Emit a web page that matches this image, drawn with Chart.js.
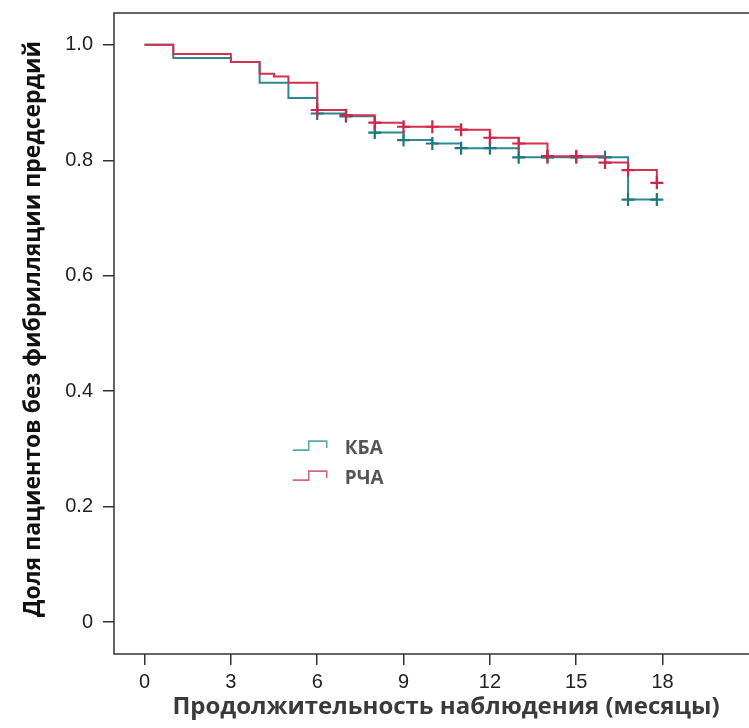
<!DOCTYPE html>
<html><head><meta charset="utf-8">
<script src="https://cdn.jsdelivr.net/npm/chart.js@4/dist/chart.umd.min.js"></script>
<style>html,body{margin:0;padding:0;background:#fff}#wrap{width:749px;height:728px}</style>
</head><body><div id="wrap"><canvas id="c" width="749" height="728"></canvas></div>
<script>
const xTicks = [0, 3, 6, 9, 12, 15, 18];
const yTicks = [0, 0.2, 0.4, 0.6, 0.8, 1.0];
const seriesNames = ['КБА', 'РЧА'];
const xTitle = 'Продолжительность наблюдения (месяцы)';
const yTitle = 'Доля пациентов без фибрилляции предсердий';

const kbaTimes = [0, 1, 3, 4, 5, 6, 7, 8, 9, 10, 11, 13, 16.8, 17.8];
const kbaSurv  = [1, 0.977, 0.970, 0.934, 0.908, 0.881, 0.876, 0.848, 0.835, 0.829, 0.821, 0.805, 0.732, 0.732];
const kbaCensorT = [6, 7, 8, 9, 10, 11, 12, 13, 14, 15, 16, 16.8, 17.8];
const kbaCensorS = [0.881, 0.876, 0.848, 0.835, 0.829, 0.821, 0.821, 0.805, 0.805, 0.805, 0.805, 0.732, 0.732];

const rchaTimes = [0, 1, 3, 4, 4.5, 5, 6, 7, 8, 9, 11, 12, 13, 14, 16, 16.8, 17.8];
const rchaSurv  = [1, 0.984, 0.970, 0.950, 0.945, 0.934, 0.887, 0.878, 0.865, 0.858, 0.853, 0.839, 0.829, 0.807, 0.796, 0.783, 0.761];
const rchaCensorT = [6, 7, 8, 9, 10, 11, 12, 13, 14, 15, 16, 16.8, 17.8];
const rchaCensorS = [0.887, 0.878, 0.865, 0.858, 0.858, 0.853, 0.839, 0.829, 0.807, 0.807, 0.796, 0.783, 0.761];

const TEAL = '#2a8b94', TEAL_D = '#1f7880', RED = '#d3324f', RED_D = '#d0264a';
const TEAL_L = '#5aa7b0', RED_L = '#d9667d';
const AXIS = '#333333';

const pts = (t, s) => t.map((v, i) => ({x: v, y: s[i]}));

const frame = {
  id: 'frame',
  afterDraw(chart) {
    const {ctx, chartArea: a} = chart;
    ctx.save();
    ctx.strokeStyle = AXIS; ctx.lineWidth = 1.5;
    ctx.beginPath();
    ctx.moveTo(chart.width, a.top); ctx.lineTo(a.left, a.top);
    ctx.lineTo(a.left, a.bottom); ctx.lineTo(chart.width, a.bottom);
    ctx.stroke();
    // axis titles
    ctx.font = 'bold 24px "Open Sans"';
    ctx.textAlign = 'center'; ctx.textBaseline = 'middle';
    ctx.fillStyle = '#3a3a3a';
    ctx.fillText(xTitle, a.left + 332, a.bottom + 53);
    ctx.save();
    ctx.translate(33, a.top + 316);
    ctx.rotate(-Math.PI / 2);
    ctx.font = 'bold 23px "Open Sans"';
    ctx.fillStyle = '#111';
    ctx.fillText(yTitle, 0, 0);
    ctx.restore();
    // legend
    const xs = chart.scales.x, ys = chart.scales.y;
    const lx = xs.getPixelForValue(5.15), ly0 = ys.getPixelForValue(0.305), gap = 30;
    const cols = [TEAL_L, RED_L];
    seriesNames.forEach((name, i) => {
      const y = ly0 + i * gap;
      ctx.strokeStyle = cols[i]; ctx.lineWidth = 1.6;
      ctx.beginPath();
      ctx.moveTo(lx, y + 4); ctx.lineTo(lx + 16, y + 4); ctx.lineTo(lx + 16, y - 5);
      ctx.lineTo(lx + 34, y - 5); ctx.lineTo(lx + 34, y + 2);
      ctx.stroke();
      ctx.fillStyle = '#555555';
      ctx.font = 'bold 19px "Open Sans"';
      ctx.textBaseline = 'middle'; ctx.textAlign = 'left';
      ctx.fillText(name, lx + 52, y + 2);
    });
    ctx.restore();
  }
};

new Chart(document.getElementById('c'), {
  type: 'line',
  data: {
    datasets: [
      {label: seriesNames[0], data: pts(kbaTimes, kbaSurv), borderColor: TEAL, borderWidth: 2, stepped: 'before', pointRadius: 0, fill: false, order: 2},
      {label: seriesNames[1], data: pts(rchaTimes, rchaSurv), borderColor: RED, borderWidth: 2, stepped: 'before', pointRadius: 0, fill: false, order: 1},
      {type: 'scatter', label: seriesNames[0] + ' cens', data: pts(kbaCensorT, kbaCensorS), pointStyle: 'cross', pointRadius: 6.5, borderColor: TEAL_D, borderWidth: 2.2, order: 0},
      {type: 'scatter', label: seriesNames[1] + ' cens', data: pts(rchaCensorT, rchaCensorS), pointStyle: 'cross', pointRadius: 6.5, borderColor: RED_D, borderWidth: 2.2, order: -1}
    ]
  },
  options: {
    responsive: false, animation: false,
    layout: {padding: {top: 13, right: 0, left: 0, bottom: 0}},
    plugins: {legend: {display: false}, tooltip: {enabled: false}},
    scales: {
      x: {
        type: 'linear', min: -1.06, max: 20.7,
        afterBuildTicks: s => { s.ticks = xTicks.map(v => ({value: v})); },
        afterFit: s => { s.height = 74; s.paddingLeft = 0; s.paddingRight = 0; },
        grid: {drawOnChartArea: false, drawTicks: true, tickLength: 11, color: AXIS, lineWidth: 1.5},
        border: {display: false},
        ticks: {color: '#222', font: {family: 'Liberation Sans', size: 20}, padding: 5, maxRotation: 0, callback: v => String(v)},
        title: {display: false}
      },
      y: {
        type: 'linear', min: -0.055, max: 1.055,
        afterBuildTicks: s => { s.ticks = yTicks.map(v => ({value: v})); },
        afterFit: s => { s.width = 114; s.paddingTop = 0; s.paddingBottom = 0; },
        grid: {drawOnChartArea: false, drawTicks: true, tickLength: 11, color: AXIS, lineWidth: 1.5},
        border: {display: false},
        ticks: {color: '#222', font: {family: 'Liberation Sans', size: 20}, padding: 10, callback: v => v === 0 ? '0' : v.toFixed(1)},
        title: {display: false}
      }
    }
  },
  plugins: [frame]
});
</script></body></html>
